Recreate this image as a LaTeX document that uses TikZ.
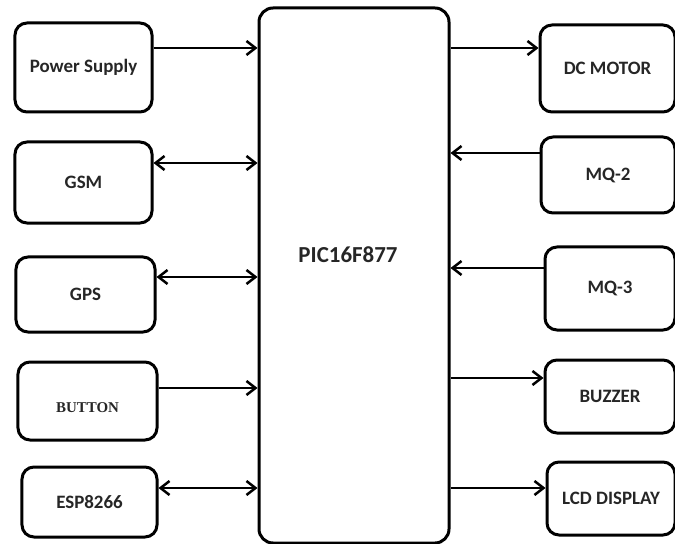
\documentclass[tikz,border=0pt]{standalone}
\usepackage{fontspec}
\newfontfamily\calibfont{Carlito}
\newfontfamily\timesfont{Liberation Serif}
\usetikzlibrary{arrows.meta}

\begin{document}
\begin{tikzpicture}[
  x=1bp,y=-1bp,
  >={Straight Barb[length=9bp,width=14bp]},
  every node/.style={align=center,text=black!85,font=\calibfont\bfseries\fontsize{19}{22}\selectfont},
  blk/.style={rectangle,draw,line width=3bp,rounded corners=12bp,inner sep=0pt},
  mcu/.style={rectangle,draw,line width=3bp,rounded corners=14bp,inner sep=0pt},
  link/.style={line width=2.5bp}
]
\path[use as bounding box,clip] (0,0) rectangle (675,544);
% controller
\node[mcu,minimum width=190bp,minimum height=535bp] (pic) at (354,275.5) {};
\node[font=\calibfont\bfseries\fontsize{23}{26}\selectfont] (pictxt) at (348,255) {PIC16F877};
% left side
\node[blk,minimum width=137bp,minimum height=89bp] (ps) at (83.5,67.5) {Power Supply};
\node[blk,minimum width=137bp,minimum height=81bp] (gsm) at (83.5,182.5) {GSM};
\node[blk,minimum width=139bp,minimum height=75bp] (gps) at (85.5,294.5) {GPS};
\node[blk,minimum width=139bp,minimum height=78bp,text height=22bp,text depth=0bp,font=\timesfont\bfseries\fontsize{15}{18}\selectfont] (btn) at (87.5,401) {BUTTON};
\node[blk,minimum width=135bp,minimum height=70bp] (esp) at (89.5,502) {ESP8266};
% right side
\node[blk,minimum width=135bp,minimum height=87bp] (dcm) at (607.5,68.5) {DC MOTOR};
\node[blk,minimum width=134bp,minimum height=76bp] (mq2) at (608,175) {MQ-2};
\node[blk,minimum width=130bp,minimum height=83bp] (mq3) at (610,288.5) {MQ-3};
\node[blk,minimum width=130bp,minimum height=73bp] (buz) at (610,396.5) {BUZZER};
\node[blk,minimum width=128bp,minimum height=73bp] (lcd) at (611,498.5) {LCD DISPLAY};
% links
\draw[link,->] (ps.east |- 0,48) -- (pic.west |- 0,48);
\draw[link,<->] (gsm.east |- 0,163) -- (pic.west |- 0,163);
\draw[link,<->] (gps.east |- 0,277) -- (pic.west |- 0,277);
\draw[link,->] (btn.east |- 0,388) -- (pic.west |- 0,388);
\draw[link,<->] (esp.east |- 0,488) -- (pic.west |- 0,488);
\draw[link,->] (pic.east |- 0,48) -- (dcm.west |- 0,48);
\draw[link,<-] (pic.east |- 0,153) -- (mq2.west |- 0,153);
\draw[link,<-] (pic.east |- 0,268) -- (mq3.west |- 0,268);
\draw[link,->] (pic.east |- 0,378) -- (buz.west |- 0,378);
\draw[link,->] (pic.east |- 0,488) -- (lcd.west |- 0,488);
\end{tikzpicture}
\end{document}
